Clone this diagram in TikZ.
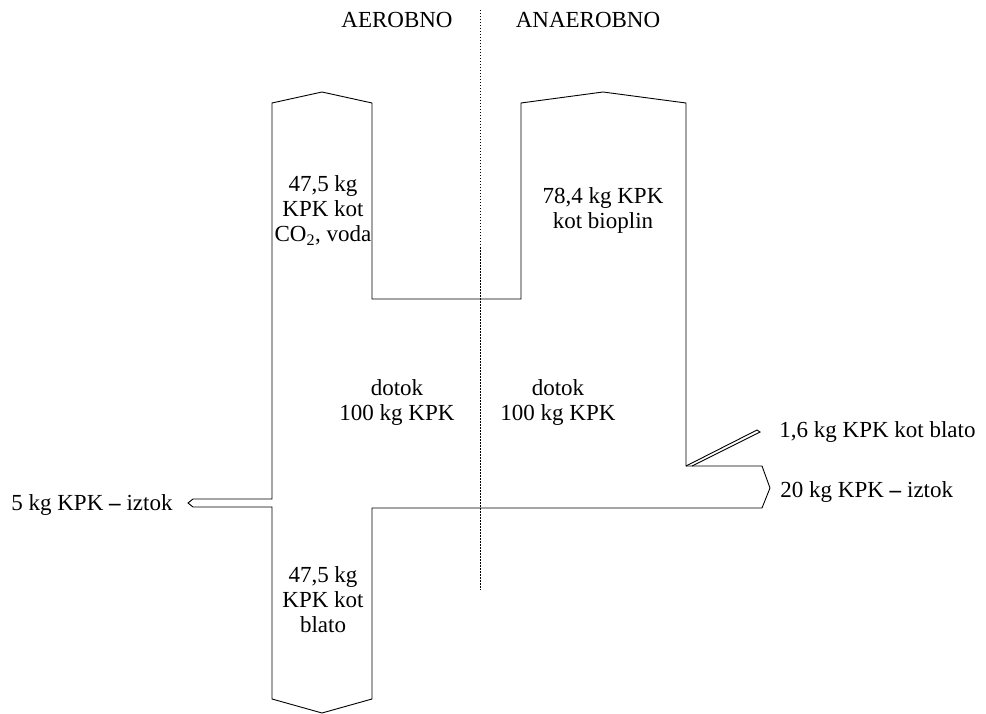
\documentclass[tikz,border=0pt]{standalone}
\usepackage{fontspec}
\setmainfont{Liberation Serif}
\begin{document}
\begin{tikzpicture}[x=1pt,y=-1pt, line width=0.9pt,
  lbl/.style={font=\fontsize{23}{25}\selectfont, inner sep=0pt, align=center},
  flow/.style={draw=black, line join=miter},
  divider/.style={draw=black, line width=0.8pt, dash pattern=on 1.5pt off 1.5pt}]
\useasboundingbox (0,0) rectangle (986,714);
% main flow outline
\draw[flow] (272,499) -- (272,103) -- (322,92) -- (372,103) -- (372,299) -- (521,299)
  -- (521,103) -- (603,92) -- (686,103) -- (686,466) -- (762,466) -- (770,488)
  -- (762,508) -- (372,508) -- (372,699) -- (322,713) -- (272,699) -- (272,507)
  -- (193,507) -- (188,503) -- (193,499) -- cycle;
% sludge branch (anaerobic)
\draw[flow] (686,466) -- (757,430) -- (760,432) -- (692,466);
% divider
\draw[divider] (480,10) -- (480,590);
% labels (base = baseline of last line)
\node[lbl, anchor=base] (aer) at (397,28) {AEROBNO};
\node[lbl, anchor=base] (anaer) at (588,28) {ANAEROBNO};
\node[lbl, anchor=base] (co2) at (323,242) {47,5 kg\\KPK kot\\CO\textsubscript{2}, voda};
\node[lbl, anchor=base] (bio) at (603,229) {78,4 kg KPK\\kot bioplin};
\node[lbl, anchor=base] (in1) at (397,420) {dotok\\100 kg KPK};
\node[lbl, anchor=base] (in2) at (558,420) {dotok\\100 kg KPK};
\node[lbl, anchor=base] (sl1) at (323,632) {47,5 kg\\KPK kot\\blato};
\node[lbl, anchor=base west] (sl2) at (779,437) {1,6 kg KPK kot blato};
\node[lbl, anchor=base west] (out2) at (780,497) {20 kg KPK \textbf{–} iztok};
\node[lbl, anchor=base east] (out1) at (173,510) {5 kg KPK \textbf{–} iztok};
\end{tikzpicture}
\end{document}
